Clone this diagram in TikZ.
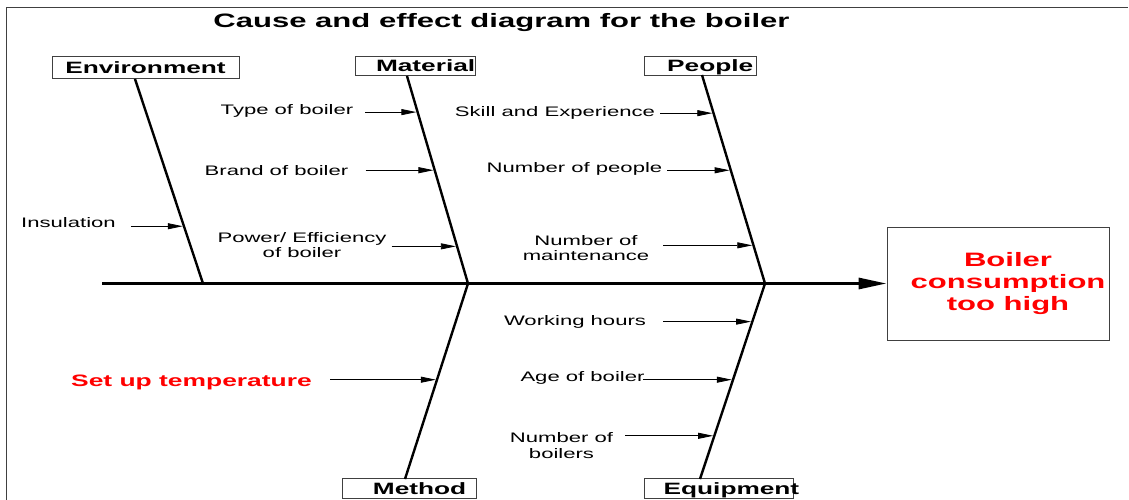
\documentclass[tikz,border=0pt]{standalone}
\usepackage{fontspec}
\setmainfont{Liberation Sans}[FakeStretch=1.6]
\usetikzlibrary{positioning,arrows.meta}

\begin{document}
\begin{tikzpicture}[x=1pt, y=-1pt,
    >={Triangle[length=15pt,width=6pt]},
    catbox/.style={
        rectangle,
        draw=black!75,
        line width=0.8pt,
        minimum height=19.5pt,
        inner sep=0pt},
    category/.style={
        inner sep=0pt,
        text depth=0pt,
        font=\fontsize{16.4}{18}\selectfont\bfseries},
    cause/.style={
        align=center,
        inner xsep=5pt,
        font=\fontsize{13.8}{15.5}\selectfont},
    effect/.style={
        rectangle,
        draw=black!75,
        line width=0.8pt,
        minimum width=222pt, minimum height=113pt},
    effect text/.style={
        align=center,
        text=red,
        font=\fontsize{19.4}{22}\selectfont\bfseries},
    bone/.style={line width=2.4pt},
    spine/.style={line width=3pt, -{Triangle[length=28pt,width=11pt]}},
    cause arrow/.style={->, line width=0.8pt, shorten >=1.2pt},
    frame/.style={draw=black!75, line width=1.5pt}]

    \useasboundingbox (0,0) rectangle (1129,500);
    \draw[frame] (6.5,500) -- (6.5,7.5) -- (1128,7.5);

    \node (title) [anchor=base, font=\fontsize{19.4}{22}\selectfont\bfseries] at (501.5,27.3) {Cause and effect diagram for the boiler};

    % category boxes
    \node (env_box) [catbox, minimum width=187pt, minimum height=22pt] at (145.5,67.5) {};
    \node (env) [category] at (env_box) {Environment};
    \node (mat_box) [catbox, minimum width=120pt] at (415,65.7) {};
    \node (mat) [category, left=0pt of mat_box.east] {Material};
    \node (ppl_box) [catbox, minimum width=112pt] at (700,65.7) {};
    \node (ppl) [category, left=3pt of ppl_box.east] {People};
    \node (meth_box) [catbox, minimum width=134pt] at (409,488.5) {};
    \node (meth) [category, left=10pt of meth_box.east] {Method};
    \node (equip_box) [catbox, minimum width=149pt] at (718.5,488.5) {};
    \node (equip) [category, left=-6pt of equip_box.east] {Equipment};

    \node (effect) [effect] at (998,283.5) {};
    \node (effect_txt) [effect text] at ([xshift=10pt]effect.center) {Boiler\\consumption\\too high};

    % spine and bones
    \coordinate (tail) at (102,283.5);
    \coordinate (env_top) at (135,79);
    \coordinate (env_root) at (203,283.5);
    \coordinate (mat_top) at (407,76);
    \coordinate (mat_root) at (468,283.5);
    \coordinate (ppl_top) at (702,75);
    \coordinate (ppl_root) at (765,283.5);
    \coordinate (meth_end) at (405,479);
    \coordinate (equip_end) at (700,479);

    \draw[spine] (tail) -- (effect.west);
    \draw[bone] (env_top) -- (env_root) coordinate[pos=.72] (env_c1);
    \draw[bone] (mat_top) -- (mat_root) coordinate[pos=.174] (mat_c1) coordinate[pos=.454] (mat_c2) coordinate[pos=.821] (mat_c3);
    \draw[bone] (ppl_top) -- (ppl_root) coordinate[pos=.183] (ppl_c1) coordinate[pos=.457] (ppl_c2) coordinate[pos=.817] (ppl_c3);
    \draw[bone] (mat_root) -- (meth_end) coordinate[pos=.492] (meth_c1);
    \draw[bone] (ppl_root) -- (equip_end) coordinate[pos=.195] (equip_c1) coordinate[pos=.492] (equip_c2) coordinate[pos=.779] (equip_c3);

    % causes
    \node (insul) [cause, anchor=base] at (68.5,227.7) {Insulation};
    \node (type) [cause, anchor=base] at (287,115) {Type of boiler};
    \node (brand) [cause, anchor=base] at (276.5,175) {Brand of boiler};
    \node (power) [cause] at (302,245) {Power/ Efficiency\\of boiler};
    \node (skill) [cause, anchor=base] at (555,116.7) {Skill and Experience};
    \node (npeople) [cause, anchor=base] at (574.5,172.3) {Number of people};
    \node (nmaint) [cause] at (586,248) {Number of\\maintenance};
    \node (setup) [cause, anchor=base, text=red, font=\fontsize{16.5}{18}\selectfont\bfseries] at (191.5,386) {Set up temperature};
    \node (work) [cause, anchor=base] at (575,325.7) {Working hours};
    \node (age) [cause, anchor=base] at (582.5,381.7) {Age of boiler};
    \node (nboil) [cause] at (561.5,445.5) {Number of\\boilers};

    \draw[cause arrow, shorten <=10pt] (insul.east |- env_c1) -- (env_c1);
    \draw[cause arrow, shorten <=7pt] (type.east |- mat_c1) -- (mat_c1);
    \draw[cause arrow, shorten <=12pt] (brand.east |- mat_c2) -- (mat_c2);
    \draw[cause arrow] (power.east |- mat_c3) -- (mat_c3);
    \draw[cause arrow] (skill.east |- ppl_c1) -- (ppl_c1);
    \draw[cause arrow] (npeople.east |- ppl_c2) -- (ppl_c2);
    \draw[cause arrow, shorten <=9pt] (nmaint.east |- ppl_c3) -- (ppl_c3);
    \draw[cause arrow, shorten <=13pt] (setup.east |- meth_c1) -- (meth_c1);
    \draw[cause arrow, shorten <=12pt] (work.east |- equip_c1) -- (equip_c1);
    \draw[cause arrow, shorten <=-7pt] (age.east |- equip_c2) -- (equip_c2);
    \draw[cause arrow, shorten <=7pt] (nboil.east |- equip_c3) -- (equip_c3);
\end{tikzpicture}
\end{document}
